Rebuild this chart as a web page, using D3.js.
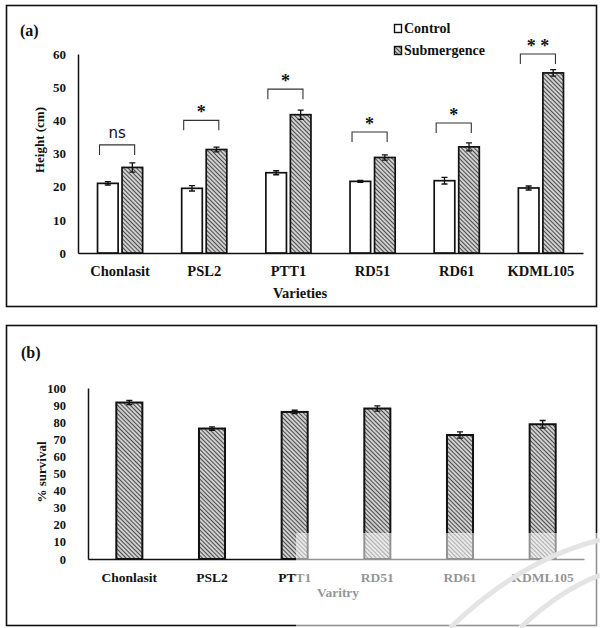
<!DOCTYPE html>
<html>
<head>
<meta charset="utf-8">
<script src="https://cdn.jsdelivr.net/npm/d3@7"></script>
<style>
  html, body { margin: 0; padding: 0; background: #fff; }
  svg text { font-family: "Liberation Serif", "Times New Roman", serif; font-weight: bold; fill: #111; }
</style>
</head>
<body>
<svg id="chart" width="600" height="628"></svg>
<script>
// ---------- DATA ----------
const categories = ["Chonlasit", "PSL2", "PTT1", "RD51", "RD61", "KDML105"];
const seriesNames = ["Control", "Submergence"];
const controlHeight = [21.0, 19.5, 24.2, 21.6, 21.8, 19.6];
const controlErr    = [0.5, 0.8, 0.6, 0.3, 1.0, 0.6];
const submergHeight = [25.8, 31.2, 41.7, 28.8, 32.0, 54.3];
const submergErr    = [1.4, 0.7, 1.4, 0.8, 1.2, 1.0];
const sigLabels     = ["ns", "*", "*", "*", "*", "**"];
const sigLevel      = [32.6, 40.0, 49.4, 36.5, 39.2, 60.0];
const heightTicks   = [0, 10, 20, 30, 40, 50, 60];

const survival      = [91.5, 76.3, 86.0, 88.0, 72.5, 78.8];
const survivalErr   = [1.2, 1.0, 1.0, 1.5, 1.8, 2.2];
const survivalTicks = [0, 10, 20, 30, 40, 50, 60, 70, 80, 90, 100];

// ---------- SETUP ----------
const svg = d3.select("#chart");
const defs = svg.append("defs");
const pat = defs.append("pattern")
  .attr("id", "hatch").attr("patternUnits", "userSpaceOnUse")
  .attr("width", 3.0).attr("height", 3.0)
  .attr("patternTransform", "rotate(-45)");
pat.append("rect").attr("width", 3.0).attr("height", 3.0).attr("fill", "#cfcfcf");
pat.append("line").attr("x1", 0).attr("y1", 0).attr("x2", 0).attr("y2", 3.0)
  .attr("stroke", "#111").attr("stroke-width", 1.4);

// panel borders
svg.append("rect").attr("x", 6.5).attr("y", 5.5).attr("width", 590).attr("height", 301)
  .attr("fill", "none").attr("stroke", "#111").attr("stroke-width", 1.6);
svg.append("rect").attr("x", 6.5).attr("y", 325.5).attr("width", 590).attr("height", 300)
  .attr("fill", "none").attr("stroke", "#111").attr("stroke-width", 1.6);

function styleTicks(sel, size) {
  sel.selectAll("text").attr("font-size", size)
    .style("font-family", "Liberation Serif").style("font-weight", "bold").attr("fill", "#111");
}

// ---------- PANEL A ----------
const gA = svg.append("g");
const xA = d3.scaleBand().domain(categories).range([78, 583]).padding(0);
const stepA = xA.bandwidth();
const xA1 = d3.scaleBand().domain(seriesNames).range([stepA * 0.232, stepA * 0.768]).paddingInner(0.16);
const yA = d3.scaleLinear().domain([0, 60]).range([253, 54]);

gA.append("text").attr("x", 20).attr("y", 36).attr("font-size", 16).text("(a)");

// y axis
const ya = gA.append("g").attr("transform", "translate(78,0)")
  .call(d3.axisLeft(yA).tickValues(heightTicks).tickSize(0).tickPadding(12));
ya.select(".domain").attr("stroke", "#111").attr("stroke-width", 1.5);
styleTicks(ya, 13);

// x axis
const xa = gA.append("g").attr("transform", "translate(0,253)")
  .call(d3.axisBottom(xA).tickSize(0).tickPadding(13));
xa.select(".domain").attr("stroke", "#111").attr("stroke-width", 1.5);
styleTicks(xa, 14.5);

gA.append("text").attr("x", 300).attr("y", 298).attr("text-anchor", "middle").attr("font-size", 14.5).text("Varieties");
gA.append("text").attr("transform", "translate(44,140) rotate(-90)").attr("text-anchor", "middle")
  .attr("font-size", 13).text("Height (cm)");

const rowsA = categories.map((c, i) => ({
  cat: c,
  vals: [
    { s: "Control", v: controlHeight[i], e: controlErr[i] },
    { s: "Submergence", v: submergHeight[i], e: submergErr[i] }
  ],
  sig: sigLabels[i], lvl: sigLevel[i]
}));

const grp = gA.selectAll("g.grp").data(rowsA).join("g").attr("class", "grp")
  .attr("transform", d => `translate(${xA(d.cat)},0)`);
grp.selectAll("rect").data(d => d.vals).join("rect")
  .attr("x", d => xA1(d.s)).attr("width", xA1.bandwidth())
  .attr("y", d => yA(d.v)).attr("height", d => yA(0) - yA(d.v))
  .attr("fill", d => d.s === "Control" ? "#fff" : "url(#hatch)")
  .attr("stroke", "#111").attr("stroke-width", 1.7);
// error bars
grp.selectAll("path.err").data(d => d.vals).join("path").attr("class", "err")
  .attr("d", d => {
    const cx = xA1(d.s) + xA1.bandwidth() / 2;
    const t = yA(d.v + d.e), b = yA(d.v - d.e);
    return `M${cx - 3},${t}H${cx + 3}M${cx},${t}V${b}M${cx - 3},${b}H${cx + 3}`;
  })
  .attr("stroke", "#111").attr("stroke-width", 1.3).attr("fill", "none");
// significance brackets
grp.append("path")
  .attr("d", d => {
    const l = xA1("Control") + 2, r = xA1("Submergence") + xA1.bandwidth() - 8;
    const y = yA(d.lvl);
    return `M${l},${y + 10}V${y}H${r}V${y + 10}`;
  })
  .attr("stroke", "#333").attr("stroke-width", 1.1).attr("fill", "none");
grp.append("text")
  .attr("x", d => (xA1("Control") + xA1("Submergence") + xA1.bandwidth() - 6) / 2)
  .attr("y", d => yA(d.lvl) - (d.sig === "ns" ? 7 : 2))
  .attr("text-anchor", "middle")
  .attr("font-size", d => d.sig === "ns" ? 15 : 18)
  .style("font-weight", d => d.sig === "ns" ? "normal" : "bold")
  .style("font-family", d => d.sig === "ns" ? "DejaVu Sans" : "Liberation Serif")
  .text(d => d.sig === "**" ? "* *" : d.sig);

// legend
const leg = gA.append("g").attr("transform", "translate(394,0)");
seriesNames.forEach((s, i) => {
  const y = 33 + i * 22;
  leg.append("rect").attr("x", 0.5).attr("y", y - 8.5).attr("width", 7).attr("height", 8)
    .attr("fill", s === "Control" ? "#fff" : "url(#hatch)").attr("stroke", "#111").attr("stroke-width", 1.4);
  leg.append("text").attr("x", 10).attr("y", y).attr("font-size", 14).text(s);
});

// ---------- PANEL B ----------
const gB = svg.append("g");
const xB = d3.scaleBand().domain(categories).range([88, 584]).paddingInner(0.685).paddingOuter(0.3425);
const yB = d3.scaleLinear().domain([0, 100]).range([559, 388]);

gB.append("text").attr("x", 21).attr("y", 358).attr("font-size", 16).text("(b)");

const yb = gB.append("g").attr("transform", "translate(88,0)")
  .call(d3.axisLeft(yB).tickValues(survivalTicks).tickSize(0).tickPadding(22));
yb.select(".domain").attr("stroke", "#111").attr("stroke-width", 1.5);
styleTicks(yb, 12.5);

const xb = gB.append("g").attr("transform", "translate(0,559)")
  .call(d3.axisBottom(xB).tickSize(0).tickPadding(13));
xb.select(".domain").attr("stroke", "#111").attr("stroke-width", 1.5);
styleTicks(xb, 13.5);

gB.append("text").attr("x", 338).attr("y", 597).attr("text-anchor", "middle").attr("font-size", 13.5).text("Varitry");
gB.append("text").attr("transform", "translate(46,472) rotate(-90)").attr("text-anchor", "middle")
  .attr("font-size", 13).text("% survival");

const rowsB = categories.map((c, i) => ({ cat: c, v: survival[i], e: survivalErr[i] }));
gB.selectAll("rect.bar").data(rowsB).join("rect").attr("class", "bar")
  .attr("x", d => xB(d.cat)).attr("width", xB.bandwidth())
  .attr("y", d => yB(d.v)).attr("height", d => yB(0) - yB(d.v))
  .attr("fill", "url(#hatch)").attr("stroke", "#111").attr("stroke-width", 2);
gB.selectAll("path.err").data(rowsB).join("path").attr("class", "err")
  .attr("d", d => {
    const cx = xB(d.cat) + xB.bandwidth() / 2;
    const t = yB(d.v + d.e), b = yB(d.v - d.e);
    return `M${cx - 3},${t}H${cx + 3}M${cx},${t}V${b}M${cx - 3},${b}H${cx + 3}`;
  })
  .attr("stroke", "#111").attr("stroke-width", 1.3).attr("fill", "none");

// faded scan watermark in lower-right of panel (b)
svg.append("rect").attr("x", 296).attr("y", 533).attr("width", 304).attr("height", 95)
  .attr("fill", "#fff").attr("opacity", 0.55);
const wm = svg.append("g").attr("fill", "none").attr("stroke", "#e4e4e4").attr("stroke-width", 5);
wm.append("path").attr("d", "M450,628 Q520,560 600,540");
wm.append("path").attr("d", "M520,628 Q560,590 600,575");
</script>
</body>
</html>
